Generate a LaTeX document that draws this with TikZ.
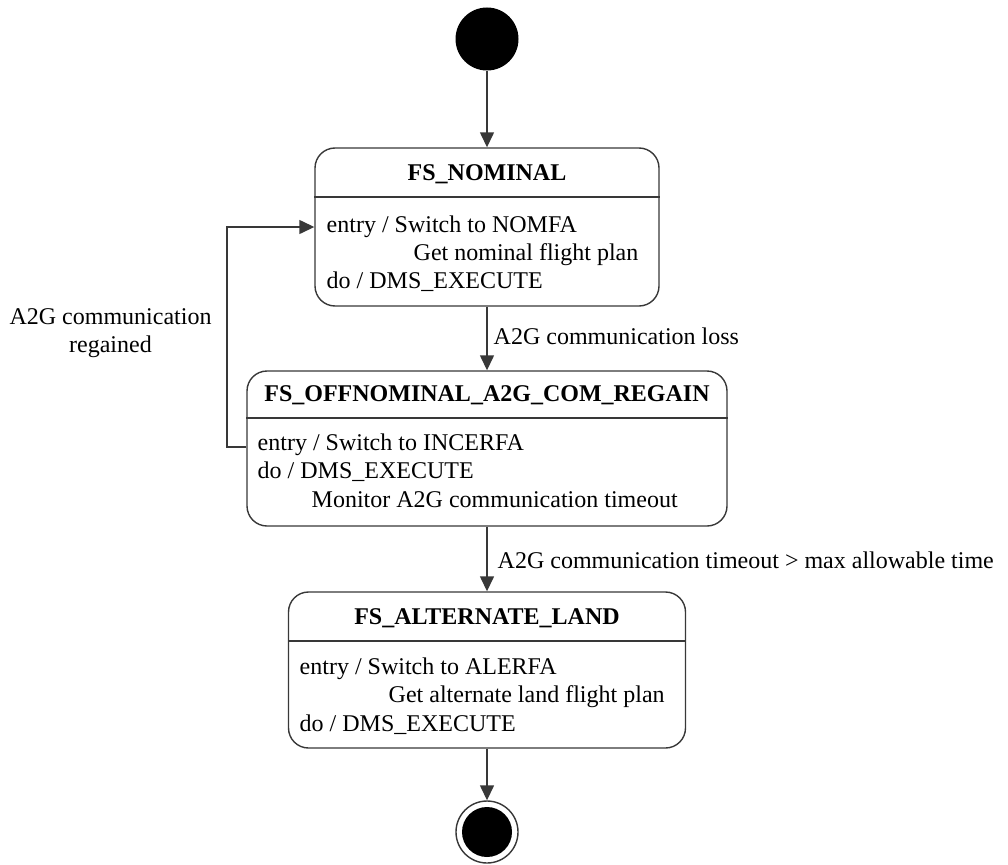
\documentclass[tikz,border=0pt]{standalone}
\usepackage{fontspec}
\setmainfont{Liberation Serif}
\usetikzlibrary{arrows.meta}
\begin{document}
\begin{tikzpicture}[x=1pt,y=-1pt,
  font=\fontsize{24}{28}\selectfont,
  line width=1.4pt,
  lc/.style={draw=black!78},
  statebox/.style={lc, rectangle, rounded corners=20pt, inner sep=0pt},
  arr/.style={lc, -{Triangle[length=15pt,width=14pt]}},
  txt/.style={anchor=base west, inner sep=0pt},
  ttl/.style={anchor=base, inner sep=0pt, font=\fontsize{24}{28}\selectfont\bfseries}]
\useasboundingbox (0,0) rectangle (1008,864);

% initial and final states
\node[circle, fill=black, minimum size=63pt, inner sep=0pt] (init) at (487,39) {};
\node[circle, lc, fill=white, minimum size=62pt, inner sep=0pt] (fin) at (487,832) {};
\node[circle, fill=black, minimum size=50pt, inner sep=0pt] (finin) at (fin) {};

% states
\node[statebox, minimum width=344pt, minimum height=158pt] (nom) at (487,227) {};
\node[statebox, minimum width=480pt, minimum height=155pt] (off) at (487,448.5) {};
\node[statebox, minimum width=397pt, minimum height=156pt] (alt) at (487,670) {};

% compartment lines
\draw[lc] (nom.west |- 0,197) -- (nom.east |- 0,197);
\draw[lc] (off.west |- 0,418) -- (off.east |- 0,418);
\draw[lc] (alt.west |- 0,641) -- (alt.east |- 0,641);

% FS_NOMINAL
\node[ttl] (nomt) at (487,180) {FS\_NOMINAL};
\node[txt] (nom1) at (326,232) {entry / Switch to NOMFA};
\node[txt] (nom2) at (413,260) {Get nominal flight plan};
\node[txt] (nom3) at (326,288) {do / DMS\_EXECUTE};

% FS_OFFNOMINAL_A2G_COM_REGAIN
\node[ttl] (offt) at (487,401) {FS\_OFFNOMINAL\_A2G\_COM\_REGAIN};
\node[txt] (off1) at (257,450) {entry / Switch to INCERFA};
\node[txt] (off2) at (257,478) {do / DMS\_EXECUTE};
\node[txt] (off3) at (311,507) {Monitor A2G communication timeout};

% FS_ALTERNATE_LAND
\node[ttl] (altt) at (487,624) {FS\_ALTERNATE\_LAND};
\node[txt] (alt1) at (299,674) {entry / Switch to ALERFA};
\node[txt] (alt2) at (388,702) {Get alternate land flight plan};
\node[txt] (alt3) at (299,731) {do / DMS\_EXECUTE};

% transitions
\draw[arr] (init) -- (nom);
\draw[arr] (nom) -- (off);
\draw[arr] (off) -- (alt);
\draw[arr] (alt) -- (fin);

\coordinate (la) at (227,447);
\coordinate (lb) at (227,227);
\draw[arr] (off.west |- la) -- (la) -- (lb) -- (nom.west |- lb);

% labels
\node[txt] (l1) at (493,344) {A2G communication loss};
\node[txt] (l2) at (497,568) {A2G communication timeout > max allowable time};
\node[anchor=base, inner sep=0pt] (l3a) at (110.5,324) {A2G communication};
\node[anchor=base, inner sep=0pt] (l3b) at (110.5,352) {regained};
\end{tikzpicture}
\end{document}
